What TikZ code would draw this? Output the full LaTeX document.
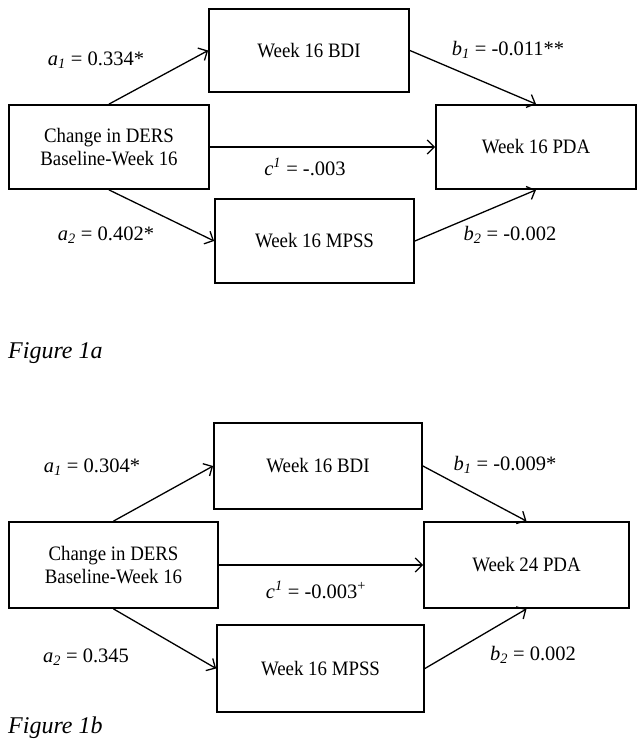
\documentclass[tikz,border=0pt]{standalone}
\usepackage{fontspec}
\setmainfont{Liberation Serif}
\newfontfamily\boxfont{Liberation Serif}[FakeStretch=0.92]
\usetikzlibrary{arrows.meta}
\begin{document}
\begin{tikzpicture}[x=1pt,y=-1pt,
  box/.style={draw,line width=1.8pt,minimum width=#1,minimum height=84pt,inner sep=0pt,font=\boxfont\fontsize{20.5}{23}\selectfont,align=center},
  box/.default=200pt,
  arr/.style={line width=1.3pt,-{Straight Barb[length=7pt,width=14pt,line width=1.3pt]}},
  lab/.style={font=\fontsize{20.5}{24}\selectfont,inner sep=0pt},
  figcap/.style={font=\fontsize{24}{28}\selectfont\itshape,inner sep=0pt,anchor=west}]
\useasboundingbox (0,0) rectangle (644,749);
% ---------- Figure 1a
\node[box=200pt,minimum height=83pt] (bdiA) at (309,50.5) {Week 16 BDI};
\node[box=200pt,minimum height=84pt] (dersA) at (109,147) {Change in DERS\\Baseline-Week 16};
\node[box=200pt,minimum height=84pt] (pdaA) at (536,147) {Week 16 PDA};
\node[box=199pt,minimum height=84pt] (mpssA) at (314.5,241) {Week 16 MPSS};
\draw[arr] (dersA.north) -- (bdiA.west);
\draw[arr] (bdiA.east) -- (pdaA.north);
\draw[arr] (dersA.east) -- (pdaA.west);
\draw[arr] (dersA.south) -- (mpssA.west);
\draw[arr] (mpssA.east) -- (pdaA.south);
\node[lab] (la1A) at (96,60) {\textit{a}\textsubscript{\textit{1}} = 0.334*};
\node[lab] (lb1A) at (508,50) {\textit{b}\textsubscript{\textit{1}} = -0.011**};
\node[lab] (lcA) at (305,167) {\textit{c}\textsuperscript{\textit{1}} = -.003};
\node[lab] (la2A) at (106,235) {\textit{a}\textsubscript{\textit{2}} = 0.402*};
\node[lab] (lb2A) at (510,235) {\textit{b}\textsubscript{\textit{2}} = -0.002};
\node[figcap] (figA) at (8,353) {Figure 1a};
% ---------- Figure 1b
\node[box=208pt,minimum height=86pt] (bdiB) at (318,466) {Week 16 BDI};
\node[box=209pt,minimum height=86pt] (dersB) at (113.5,565) {Change in DERS\\Baseline-Week 16};
\node[box=205pt,minimum height=86pt] (pdaB) at (526.5,565) {Week 24 PDA};
\node[box=207pt,minimum height=87pt] (mpssB) at (320.5,668.5) {Week 16 MPSS};
\draw[arr] (dersB.north) -- (bdiB.west);
\draw[arr] (bdiB.east) -- (pdaB.north);
\draw[arr] (dersB.east) -- (pdaB.west);
\draw[arr] (dersB.south) -- (mpssB.west);
\draw[arr] (mpssB.east) -- (pdaB.south);
\node[lab] (la1B) at (92,467) {\textit{a}\textsubscript{\textit{1}} = 0.304*};
\node[lab] (lb1B) at (505,465) {\textit{b}\textsubscript{\textit{1}} = -0.009*};
\node[lab] (lcB) at (316,590) {\textit{c}\textsuperscript{\textit{1}} = -0.003\textsuperscript{+}};
\node[lab] (la2B) at (86,657) {\textit{a}\textsubscript{\textit{2}} = 0.345};
\node[lab] (lb2B) at (533,655) {\textit{b}\textsubscript{\textit{2}} = 0.002};
\node[figcap] (figB) at (8,728) {Figure 1b};
\end{tikzpicture}
\end{document}
